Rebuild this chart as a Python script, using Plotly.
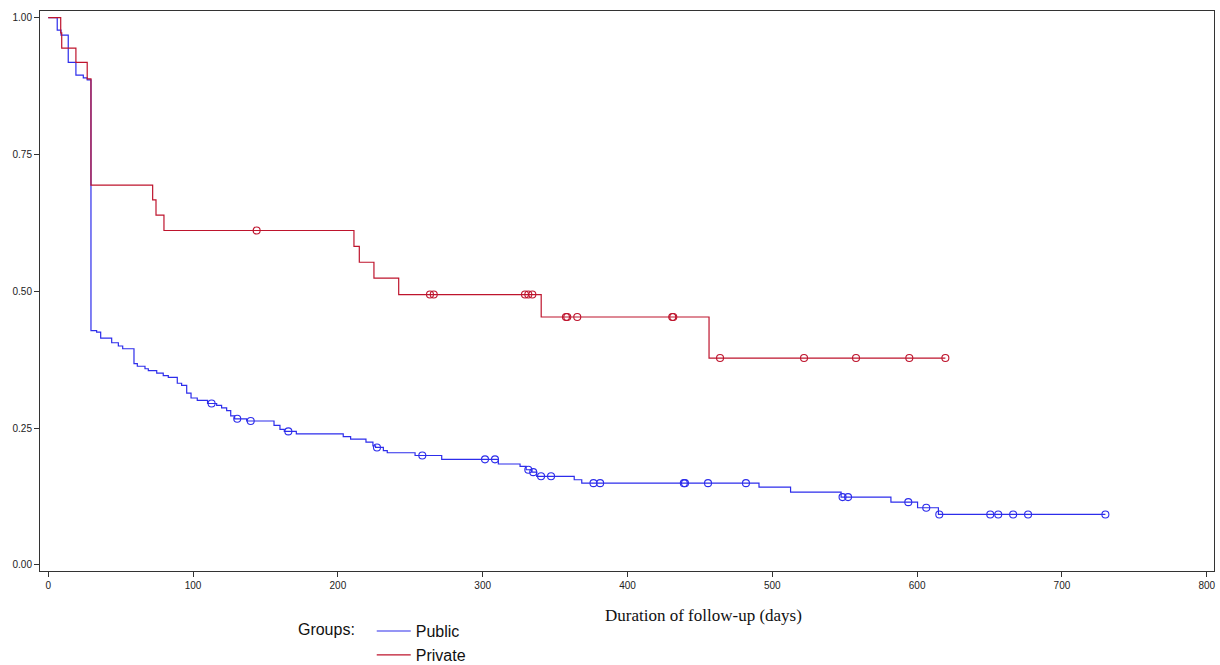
import plotly.graph_objects as go
import numpy as np

# ---- data ----
public_times = [0, 6.2, 8.8, 13.8, 19.1, 24.2, 26.9, 29.5, 33.4, 36.2, 43.8, 48.4, 51.4, 59.2, 61.5,
                66.8, 69.1, 74.9, 79.4, 82.9, 89.1, 92.1, 95.6, 98.6, 102.9, 110.0, 116.3, 119.7,
                123.2, 126.0, 128.7, 137.0, 155.9, 160.0, 163.0, 171.3, 203.7, 208.8, 219.4, 224.2,
                226.0, 231.4, 234.1, 253.3, 271.7, 310.8, 325.8, 330.0, 334.0, 337.3, 363.2, 368.4,
                490.8, 512.6, 547.5, 581.9, 600.3, 614.7]
public_surv = [1.0, 0.977, 0.968, 0.918, 0.895, 0.890, 0.886, 0.428, 0.4255, 0.4145, 0.406, 0.400,
               0.395, 0.368, 0.363, 0.3585, 0.355, 0.3505, 0.346, 0.3427, 0.332, 0.328, 0.314, 0.305,
               0.3006, 0.295, 0.2915, 0.287, 0.282, 0.2725, 0.267, 0.263, 0.255, 0.2476, 0.244,
               0.2395, 0.2345, 0.230, 0.2244, 0.2175, 0.2147, 0.209, 0.205, 0.200, 0.193, 0.1845,
               0.180, 0.174, 0.1696, 0.162, 0.1557, 0.1495, 0.1422, 0.133, 0.124, 0.1148, 0.1045,
               0.0923]
public_censored = [112.8, 130.5, 139.8, 165.8, 227.0, 258.3, 301.6, 308.5, 331.5, 334.9, 340.3,
                   347.2, 376.5, 381.1, 438.9, 439.7, 455.6, 481.8, 548.5, 552.3, 593.9, 606.3,
                   615.3, 650.5, 656.0, 666.3, 676.6, 730.0]

private_times = [0, 8.6, 9.3, 19.1, 26.9, 29.5, 72.1, 74.4, 79.9, 211.1, 214.8, 224.9, 242.0,
                 340.4, 456.3]
private_surv = [1.0, 0.972, 0.944, 0.918, 0.888, 0.694, 0.667, 0.639, 0.611, 0.582, 0.553, 0.524,
                0.494, 0.453, 0.378]
private_censored = [143.9, 263.6, 266.2, 329.2, 331.5, 334.3, 357.5, 358.4, 365.3, 430.9, 431.6,
                    463.9, 521.9, 557.8, 594.6, 619.5]

x_ticks = [0, 100, 200, 300, 400, 500, 600, 700, 800]
y_ticks = [0.0, 0.25, 0.50, 0.75, 1.00]

BLUE = "rgb(45,45,235)"
RED = "rgb(190,20,45)"


def surv_at(times, surv, t):
    idx = np.searchsorted(np.array(times), t, side="right") - 1
    return surv[idx]


def step_xy(times, surv, censored):
    end = max(max(times), max(censored))
    return list(times) + [end], list(surv) + [surv[-1]]


fig = go.Figure()

for name, times, surv, cens, col in [("Public", public_times, public_surv, public_censored, BLUE),
                                     ("Private", private_times, private_surv, private_censored, RED)]:
    xs, ys = step_xy(times, surv, cens)
    fig.add_trace(go.Scatter(x=xs, y=ys, mode="lines", line=dict(shape="hv", color=col, width=1.2),
                             name=name, showlegend=True, hoverinfo="skip"))
    fig.add_trace(go.Scatter(x=cens, y=[surv_at(times, surv, c) for c in cens], mode="markers",
                             marker=dict(symbol="circle-open", size=7, color=col, line=dict(width=1.1)),
                             showlegend=False, name=name + " censored"))

axis_common = dict(showline=True, linecolor="#333333", linewidth=1, mirror=True, showgrid=False,
                   zeroline=False, ticks="outside", ticklen=5, tickcolor="#333333", automargin=False,
                   tickfont=dict(family="Liberation Sans, Arial", size=10, color="#222222"))

fig.update_xaxes(range=[-5.7, 805], tickvals=x_ticks, **axis_common)
fig.update_yaxes(range=[-0.011, 1.012], tickvals=y_ticks, tickformat=".2f", **axis_common)

fig.add_annotation(text="Duration of follow-up (days)", xref="paper", yref="paper",
                   x=0.565, y=-0.08, xanchor="center", yanchor="middle", showarrow=False,
                   font=dict(family="Liberation Serif, Times New Roman", size=17, color="#111111"))

fig.update_layout(
    width=1220, height=665,
    margin=dict(l=40, r=6, t=11, b=94, autoexpand=False),
    paper_bgcolor="white", plot_bgcolor="white",
    showlegend=True,
    legend=dict(orientation="v", x=0.218, xanchor="left", y=-0.077, yanchor="top",
                title=dict(text="Groups:  ", side="left",
                           font=dict(family="Liberation Sans, Arial", size=16, color="#111111")),
                font=dict(family="Liberation Sans, Arial", size=16, color="#111111"),
                bgcolor="rgba(0,0,0,0)", tracegroupgap=0, itemwidth=34),
)

fig.write_html("out.html", config={"displayModeBar": False},
               post_script="document.body.style.margin='0';"
                           "document.documentElement.style.overflow='hidden';"
                           "document.body.style.overflow='hidden';")
